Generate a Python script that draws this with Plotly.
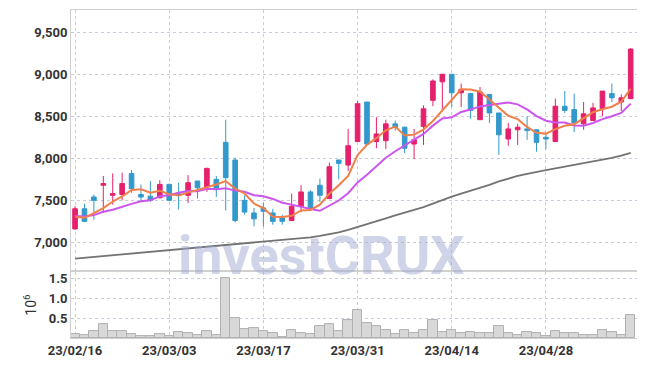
import plotly.graph_objects as go
import pandas as pd

# ---------------- data ----------------
dates = ["2023-02-16", "2023-02-17", "2023-02-20", "2023-02-21", "2023-02-22", "2023-02-23",
         "2023-02-24", "2023-02-27", "2023-02-28", "2023-03-02", "2023-03-03", "2023-03-06",
         "2023-03-07", "2023-03-08", "2023-03-09", "2023-03-10", "2023-03-13", "2023-03-14",
         "2023-03-15", "2023-03-16", "2023-03-17", "2023-03-20", "2023-03-21", "2023-03-22",
         "2023-03-23", "2023-03-24", "2023-03-27", "2023-03-28", "2023-03-29", "2023-03-30",
         "2023-03-31", "2023-04-03", "2023-04-04", "2023-04-05", "2023-04-06", "2023-04-07",
         "2023-04-10", "2023-04-11", "2023-04-12", "2023-04-13", "2023-04-14", "2023-04-17",
         "2023-04-18", "2023-04-19", "2023-04-20", "2023-04-21", "2023-04-24", "2023-04-25",
         "2023-04-26", "2023-04-27", "2023-04-28", "2023-05-02", "2023-05-03", "2023-05-04",
         "2023-05-08", "2023-05-09", "2023-05-10", "2023-05-11", "2023-05-12", "2023-05-15"]

open_ = [7160, 7400, 7540, 7680, 7560, 7570, 7820, 7570, 7550, 7530,
         7690, 7580, 7560, 7730, 7660, 7750, 8190, 7980, 7500, 7350,
         7410, 7350, 7290, 7260, 7430, 7600, 7680, 7520, 7980, 7920,
         8200, 8670, 8200, 8210, 8410, 8370, 8170, 8380, 8690, 8910,
         9000, 8780, 8770, 8460, 8760, 8540, 8230, 8340, 8350, 8340,
         8250, 8200, 8620, 8580, 8410, 8450, 8590, 8770, 8670, 8710]
high = [7430, 7460, 7570, 7790, 7820, 7830, 7860, 7690, 7730, 7740,
        7700, 7710, 7800, 7730, 7890, 7790, 8460, 8010, 7560, 7410,
        7470, 7400, 7330, 7580, 7680, 7620, 7760, 7950, 7980, 8350,
        8680, 8670, 8490, 8460, 8450, 8380, 8350, 8630, 8940, 9000,
        9000, 8890, 8780, 8850, 8760, 8540, 8420, 8410, 8500, 8340,
        8290, 8710, 8800, 8770, 8670, 8660, 8800, 8890, 8760, 9310]
low = [7150, 7240, 7270, 7350, 7450, 7500, 7590, 7480, 7480, 7530,
       7500, 7390, 7470, 7520, 7600, 7540, 7380, 7240, 7330, 7190,
       7190, 7210, 7210, 7260, 7360, 7400, 7480, 7520, 7750, 7850,
       8200, 8170, 8120, 8110, 8330, 8060, 7990, 8160, 8620, 8560,
       8610, 8610, 8470, 8460, 8420, 8040, 8150, 8160, 8220, 8080,
       8110, 8200, 8540, 8310, 8340, 8450, 8500, 8670, 8560, 8710]
close = [7400, 7250, 7500, 7700, 7580, 7700, 7640, 7540, 7500, 7690,
         7500, 7560, 7710, 7650, 7880, 7640, 7770, 7260, 7360, 7280,
         7370, 7250, 7250, 7430, 7600, 7400, 7560, 7900, 7940, 8150,
         8650, 8170, 8290, 8410, 8370, 8120, 8220, 8590, 8920, 9000,
         8780, 8820, 8570, 8790, 8540, 8280, 8350, 8370, 8330, 8190,
         8230, 8620, 8570, 8420, 8530, 8600, 8800, 8720, 8720, 9300]
# closes before the visible window (needed for the moving averages)
prior_close = [7300, 7340, 7310, 7330, 7325, 7320, 7220, 7400, 7190]

ma_long = [6806, 6816, 6826, 6836, 6846, 6856, 6866, 6876, 6886, 6896,
           6906, 6916, 6926, 6935, 6944, 6953, 6963, 6972, 6982, 6992,
           7002, 7012, 7022, 7034, 7046, 7060, 7076, 7096, 7120, 7148,
           7180, 7215, 7250, 7285, 7320, 7352, 7385, 7420, 7460, 7505,
           7545, 7580, 7612, 7648, 7685, 7725, 7760, 7790, 7815, 7840,
           7860, 7880, 7900, 7920, 7940, 7960, 7982, 8005, 8032, 8065]

volume_m = [0.11, 0.085, 0.17, 0.35, 0.17, 0.17, 0.09, 0.06, 0.06, 0.09,
            0.06, 0.14, 0.12, 0.07, 0.17, 0.07, 1.51, 0.49, 0.22, 0.25,
            0.17, 0.12, 0.03, 0.19, 0.12, 0.09, 0.29, 0.36, 0.17, 0.44,
            0.69, 0.37, 0.29, 0.19, 0.09, 0.19, 0.12, 0.21, 0.44, 0.14,
            0.21, 0.12, 0.14, 0.12, 0.12, 0.29, 0.12, 0.085, 0.14, 0.12,
            0.06, 0.17, 0.12, 0.12, 0.085, 0.085, 0.19, 0.14, 0.085, 0.57]

price_ticks = [7000, 7500, 8000, 8500, 9000, 9500]
vol_ticks = [0.5, 1.0, 1.5]
vol_tick_labels = ["0.5", "1.0", "1.5"]

# ---------------- derived ----------------
all_close = pd.Series(prior_close + close)
n0 = len(prior_close)
ma5 = all_close.rolling(5).mean().iloc[n0:].tolist()
ma10 = all_close.rolling(10).mean().iloc[n0:].tolist()
x_tickvals = dates[::10]
x_ticktext = [d[2:].replace("-", "/") for d in x_tickvals]

UP = "#e5206c"
DOWN = "#3399cc"
GRID = "#c9cbdc"
AXL = "#d0d0d0"
FONT = "Roboto, Liberation Sans, sans-serif"

fig = go.Figure()
fig.add_trace(go.Scatter(x=dates, y=ma_long, mode="lines", line=dict(color="#737373", width=1.8),
                         xaxis="x", yaxis="y", hoverinfo="skip"))
fig.add_trace(go.Candlestick(x=dates, open=open_, high=high, low=low, close=close,
                             increasing=dict(line=dict(color=UP, width=1), fillcolor=UP),
                             decreasing=dict(line=dict(color=DOWN, width=1), fillcolor=DOWN),
                             whiskerwidth=0, xaxis="x", yaxis="y"))
fig.add_trace(go.Scatter(x=dates, y=ma10, mode="lines", line=dict(color="#cc55ee", width=2),
                         xaxis="x", yaxis="y", hoverinfo="skip"))
fig.add_trace(go.Scatter(x=dates, y=ma5, mode="lines", line=dict(color="#f0804a", width=2),
                         xaxis="x", yaxis="y", hoverinfo="skip"))
fig.add_trace(go.Bar(x=dates, y=volume_m, marker=dict(color="#d8d8d8", line=dict(color="#b0b0b0", width=1)),
                     width=1.0, xaxis="x2", yaxis="y2"))

tickfont = dict(family=FONT, size=13, color="#333333", weight="bold")
common_x = dict(type="category", range=[-0.43, 59.67], tickvals=x_tickvals, showgrid=True,
                gridcolor=GRID, griddash="dot", gridwidth=1, showline=True, mirror=True,
                linecolor=AXL, linewidth=1, ticks="", zeroline=False, automargin=False)
# the page body adds an 8px offset, so margins are shifted to keep the plot area in place
fig.update_layout(
    width=645, height=366,
    margin=dict(l=63, r=16, t=2, b=36, autoexpand=False),
    paper_bgcolor="white", plot_bgcolor="white",
    showlegend=False,
    xaxis=dict(common_x, anchor="y", showticklabels=False, rangeslider=dict(visible=False)),
    xaxis2=dict(common_x, anchor="y2", matches="x", ticktext=x_ticktext, tickfont=tickfont),
    yaxis=dict(domain=[0.207, 1], range=[6670, 9765], tickvals=price_ticks, tickformat=",",
               showgrid=True, gridcolor=GRID, griddash="dot", showline=True, mirror=True,
               linecolor=AXL, zeroline=False, tickfont=tickfont, ticks="", automargin=False),
    yaxis2=dict(domain=[0, 0.201], range=[0, 1.65], tickvals=vol_ticks, ticktext=vol_tick_labels,
                showgrid=True, gridcolor=GRID, griddash="dot", showline=True, mirror=True,
                linecolor=AXL, zeroline=False, tickfont=tickfont, ticks="", automargin=False,
                title=dict(text="10<sup>6</sup>", font=dict(family=FONT, size=14, color="#333333"), standoff=8)),
    bargap=0,
    annotations=[dict(text="<b>investCRUX</b>", xref="paper", yref="paper", x=0.4417, y=0.253,
                      xanchor="center", yanchor="middle", showarrow=False,
                      font=dict(family="Roboto", size=54, color="rgba(160,170,212,0.5)"))],
)

fig.write_html("out.html")
